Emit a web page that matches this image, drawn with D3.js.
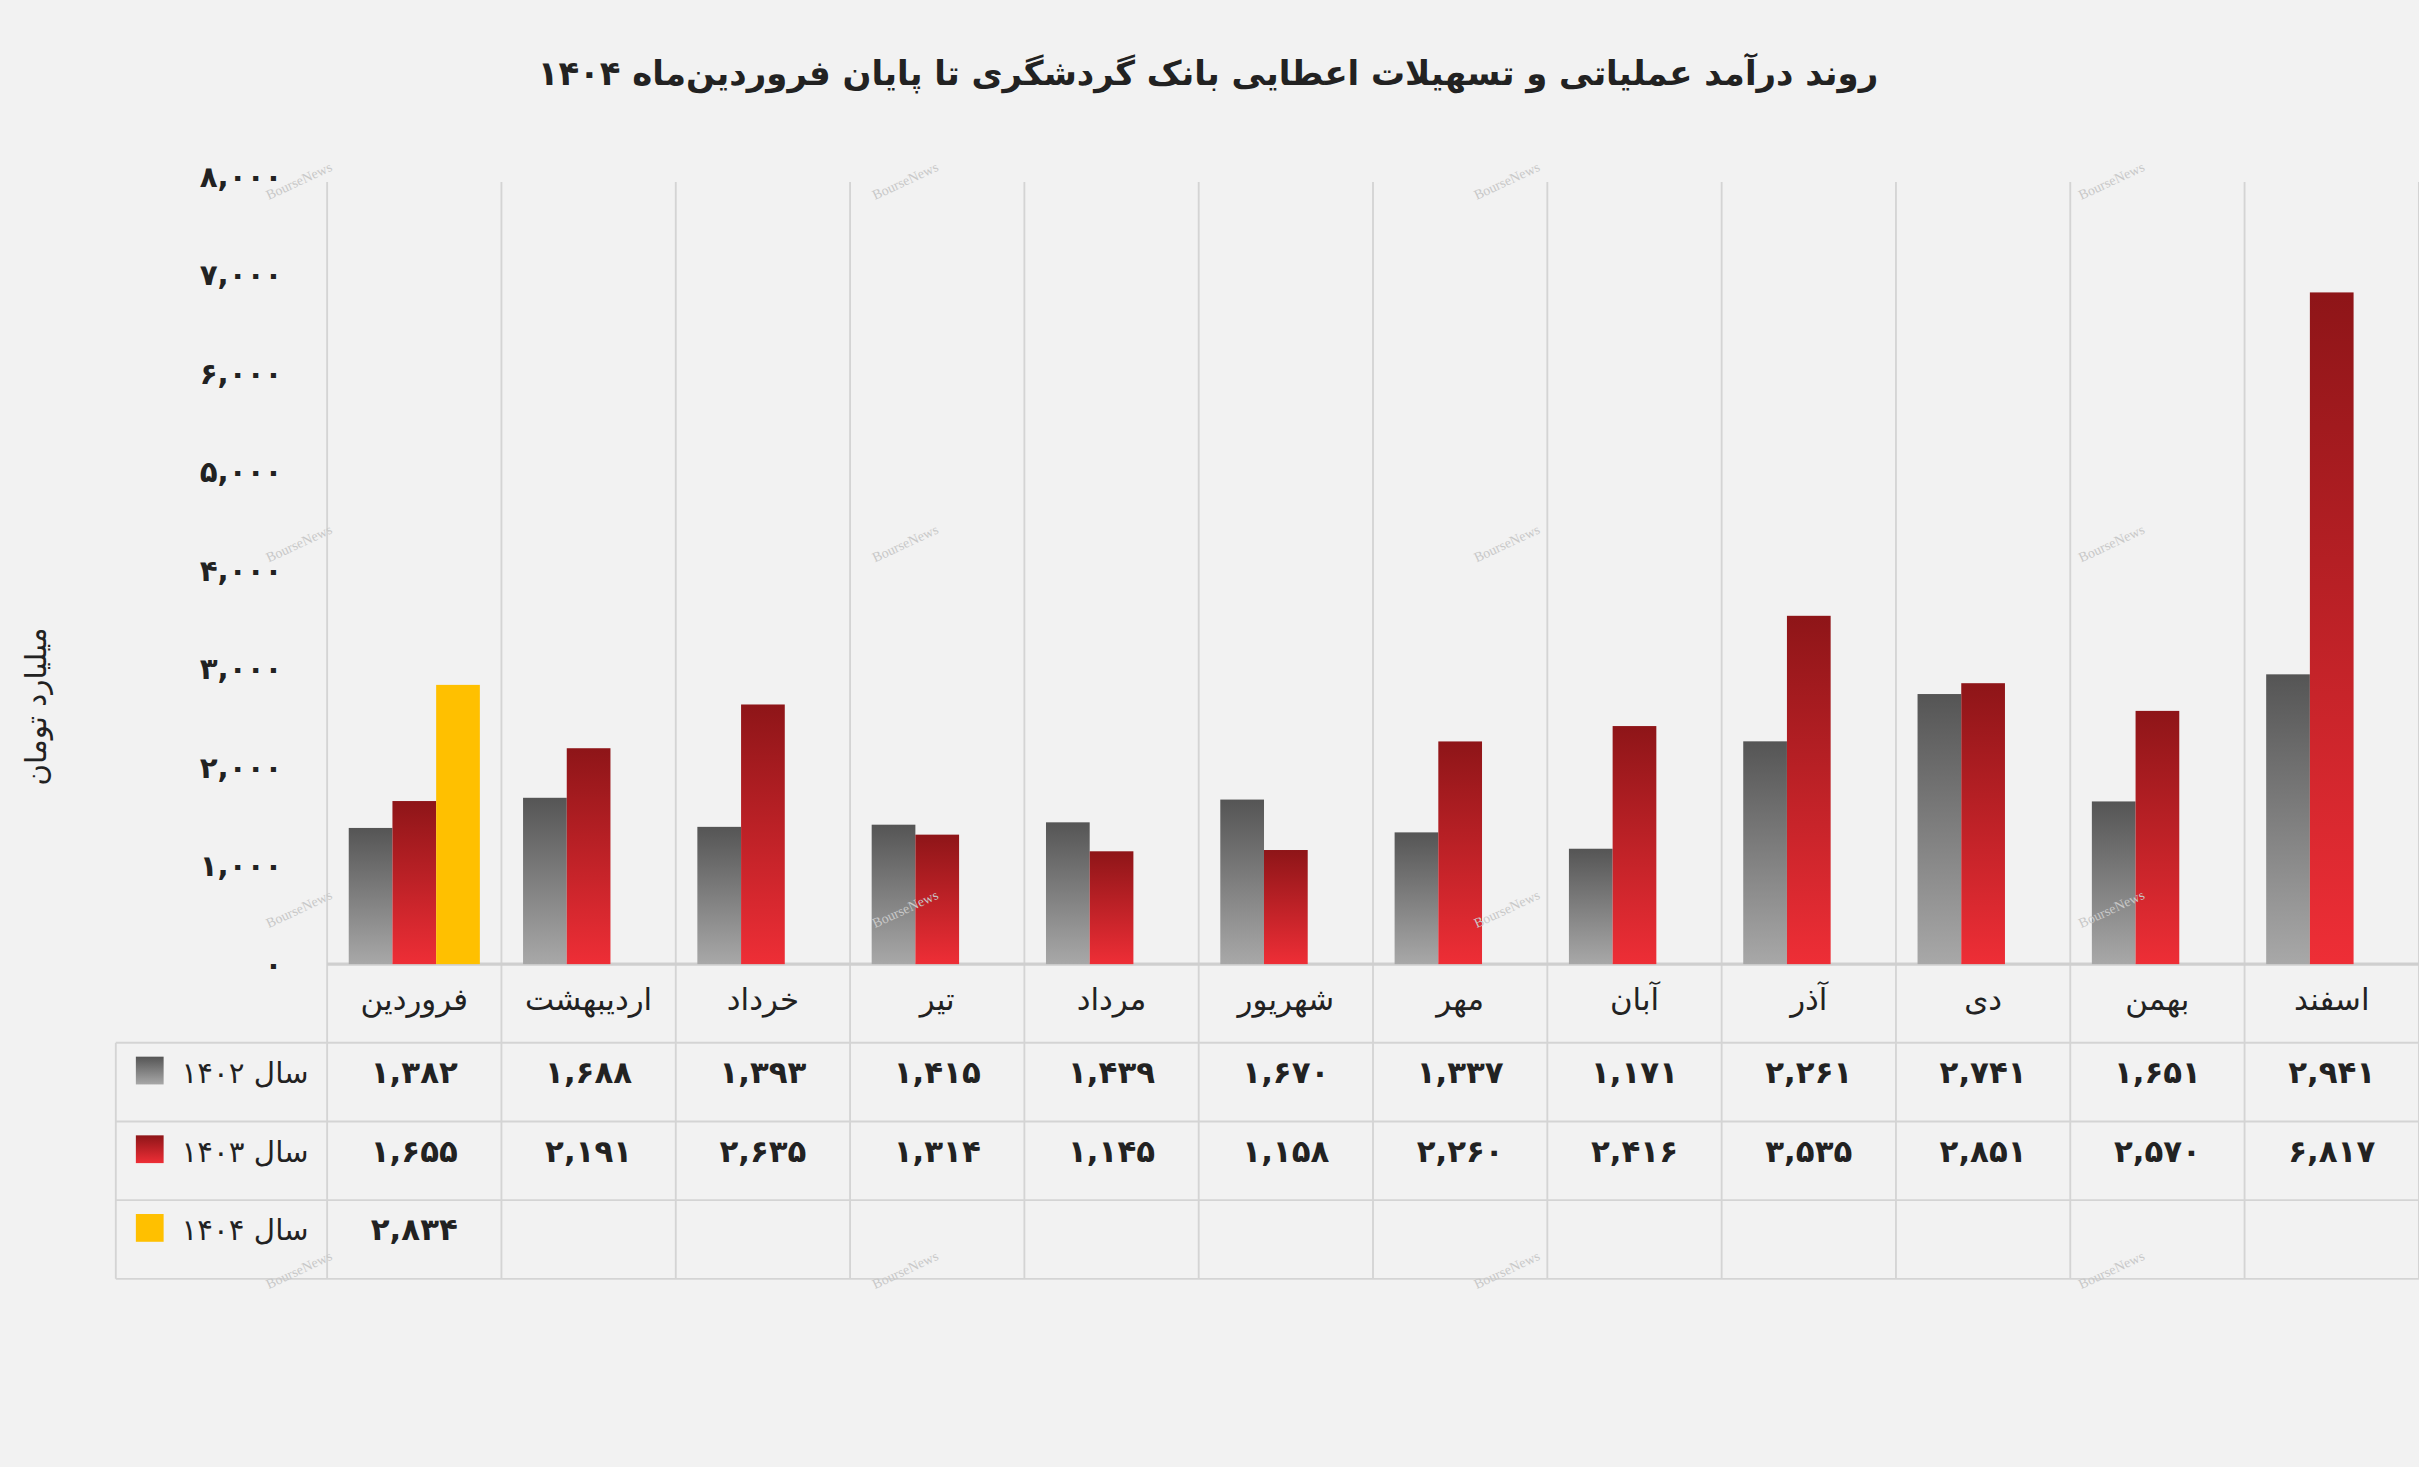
<!DOCTYPE html>
<html><head><meta charset="utf-8">
<script src="https://cdn.jsdelivr.net/npm/d3@7/dist/d3.min.js"></script>
<style>body{margin:0;background:#f2f2f2}svg{display:block;font-family:"DejaVu Sans","Noto Sans",sans-serif}</style>
</head><body><svg id="c"></svg>
<script>
const months = ['فروردین','اردیبهشت','خرداد','تیر','مرداد','شهریور','مهر','آبان','آذر','دی','بهمن','اسفند'];
const y1402 = [1382,1688,1393,1415,1439,1670,1337,1171,2261,2741,1651,2941];
const y1403 = [1655,2191,2635,1314,1145,1158,2260,2416,3535,2851,2570,6817];
const y1404 = [2834];
const seriesNames = ['سال ۱۴۰۲','سال ۱۴۰۳','سال ۱۴۰۴'];
const yTicks = [0,1000,2000,3000,4000,5000,6000,7000,8000];

const fa = s => String(s).replace(/\d/g, d => '۰۱۲۳۴۵۶۷۸۹'[d]);
const fmt = v => fa(d3.format(',')(v));

const W = 1568, H = 951;
const svg = d3.select('#c').attr('width', 2419).attr('height', 1467).attr('viewBox', `0 0 ${W} ${H}`);
svg.append('rect').attr('width', W).attr('height', H).attr('fill', '#f2f2f2');

const defs = svg.append('defs');
function grad(id, c1, c2) {
  const g = defs.append('linearGradient').attr('id', id).attr('x1', 0).attr('y1', 0).attr('x2', 0).attr('y2', 1);
  g.append('stop').attr('offset', 0).attr('stop-color', c1);
  g.append('stop').attr('offset', 1).attr('stop-color', c2);
}
grad('g0', '#555555', '#a8a8a8');
grad('g1', '#8e1518', '#ee2e36');
grad('g2', '#ffc000', '#ffc000');
const fills = ['url(#g0)', 'url(#g1)', 'url(#g2)'];

const plotL = 212, plotR = 1568, plotT = 114, base = 625;
const x = d3.scaleBand().domain(months).range([plotL, plotR]);
const sub = d3.scaleBand().domain([0,1,2]).range([14, x.bandwidth() - 14]);
const y = d3.scaleLinear().domain([0, 8000]).range([base, plotT]);

// title
svg.append('text').attr('x', 783).attr('y', 55).attr('text-anchor', 'middle')
  .attr('font-size', 22).attr('font-weight', 'bold').attr('fill', '#222')
  .attr('direction', 'rtl').text('روند درآمد عملیاتی و تسهیلات اعطایی بانک گردشگری تا پایان فروردین‌ماه  ۱۴۰۴');

// y title
svg.append('text').attr('transform', 'translate(30,458) rotate(-90)').attr('text-anchor', 'middle')
  .attr('font-size', 19).attr('fill', '#222').text('میلیارد تومان');

// y ticks
svg.selectAll('.yt').data(yTicks).join('text')
  .attr('x', 183).attr('y', d => y(d) + 7).attr('text-anchor', 'end')
  .attr('font-size', 19).attr('font-weight', 'bold').attr('fill', '#222').text(d => fmt(d));

// grid / table lines
const lineC = '#d4d4d4';
const bounds = months.map(m => x(m)).concat([plotR]);
svg.selectAll('.vg').data(bounds).join('line')
  .attr('x1', d => d).attr('x2', d => d).attr('y1', 118).attr('y2', 829)
  .attr('stroke', lineC).attr('stroke-width', 1.2);
svg.append('line').attr('x1', 75).attr('x2', 75).attr('y1', 676).attr('y2', 829).attr('stroke', lineC).attr('stroke-width', 1.2);
svg.append('line').attr('x1', plotL).attr('x2', plotR).attr('y1', base).attr('y2', base).attr('stroke', '#cfcfcf').attr('stroke-width', 2);
[676, 727, 778, 829].forEach(yy => svg.append('line').attr('x1', 75).attr('x2', plotR).attr('y1', yy).attr('y2', yy).attr('stroke', lineC).attr('stroke-width', 1.2));

// bars
[y1402, y1403, y1404].forEach((arr, si) => {
  svg.selectAll('.b' + si).data(arr).join('rect')
    .attr('x', (d, i) => x(months[i]) + sub(si)).attr('width', sub.bandwidth())
    .attr('y', d => y(d)).attr('height', d => base - y(d)).attr('fill', fills[si]);
});

// category row
svg.selectAll('.cat').data(months).join('text')
  .attr('x', d => x(d) + x.bandwidth() / 2).attr('y', 655).attr('text-anchor', 'middle')
  .attr('font-size', 20).attr('fill', '#222').text(d => d);

// data rows
const rowY = [702, 753, 804];
[y1402, y1403, y1404].forEach((arr, si) => {
  svg.selectAll('.v' + si).data(arr).join('text')
    .attr('x', (d, i) => x(months[i]) + x.bandwidth() / 2).attr('y', rowY[si]).attr('text-anchor', 'middle')
    .attr('font-size', 20).attr('font-weight', 'bold').attr('fill', '#222').text(d => fmt(d));
  svg.append('rect').attr('x', 88).attr('y', rowY[si] - 17).attr('width', 18).attr('height', 18).attr('fill', fills[si]);
  svg.append('text').attr('x', 200).attr('y', rowY[si]).attr('text-anchor', 'end')
    .attr('font-size', 19).attr('fill', '#222').text(seriesNames[si]);
});

// watermarks
const wx = [195, 588, 978, 1370], wy = [120, 355, 592, 826];
wx.forEach(a => wy.forEach(b => svg.append('text').attr('transform', `translate(${a},${b}) rotate(-25)`)
  .attr('text-anchor', 'middle').attr('font-size', 9).attr('font-family', 'Liberation Serif').attr('fill', '#c8c8c8').text('BourseNews')));
</script></body></html>
